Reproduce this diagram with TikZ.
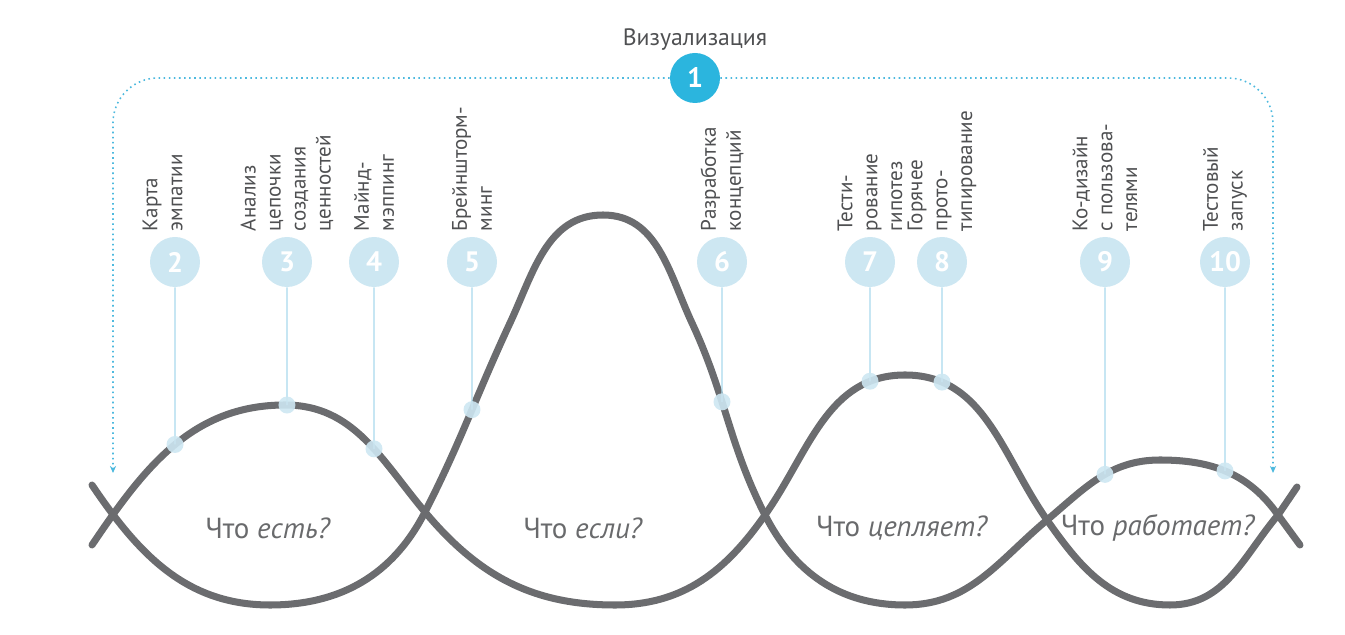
\documentclass[tikz,border=0pt]{standalone}
\usepackage{fontspec}
\setmainfont{PT Sans}
\usepackage{xcolor}
\usepackage{tikz}
\usetikzlibrary{positioning,arrows.meta,intersections}
\definecolor{waveGray}{HTML}{6B6C6F}
\definecolor{textGray}{HTML}{4F5052}
\definecolor{pinBlue}{HTML}{CDE7F2}
\definecolor{stemBlue}{HTML}{A9D9EC}
\definecolor{mainBlue}{HTML}{2BB5DE}
\definecolor{frameBlue}{HTML}{4DB9DE}

\begin{document}
\begin{tikzpicture}[
    x=0.02cm, y=0.02cm,
    wave/.style={draw=waveGray,line width=4pt,line cap=round},
    pin/.style={circle,fill=pinBlue,minimum size=1cm,inner sep=0pt,
                text=white,font=\fontsize{16}{16}\selectfont\bfseries},
    mainpin/.style={pin,fill=mainBlue},
    lbl/.style={rotate=90,anchor=west,align=left,inner sep=0pt,text=textGray,
                font=\fontsize{12}{14.2}\selectfont},
    phrase/.style={text=textGray!85,font=\fontsize{16.5}{18}\selectfont},
    stem/.style={draw=stemBlue,line width=0.7pt},
    spot/.style={circle,fill=pinBlue,opacity=0.9,minimum size=0.34cm,inner sep=0pt},
    frame/.style={draw=frameBlue,line width=0.9pt,dotted,rounded corners=0.9cm,
                  -{Stealth[length=4pt,width=3.5pt]}}
]
\useasboundingbox (0,0) rectangle (1345,635);

% the two crossing waves
\draw[wave, name path=wa] (92,90) to[out=56,in=180] (285,230)
    to[out=0,in=130] (425,123) to[out=-50,in=180] (615,30)
    to[out=0,in=235] (765,120) to[out=55,in=180] (905,260)
    to[out=0,in=125] (1047,115) to[out=-55,in=180] (1170,30)
    to[out=0,in=230] (1278,120) -- (1297,148);
\draw[wave, name path=wb] (92,150) to[out=-56,in=180] (270,30)
    to[out=0,in=243] (425,123) to[out=63,in=245] (510,312)
    to[out=65,in=180] (603,420) to[out=0,in=115] (692,312)
    to[out=-65,in=117] (765,120) to[out=-63,in=180] (905,30)
    to[out=0,in=220] (1047,115) to[out=40,in=180] (1160,175)
    to[out=0,in=125] (1278,120) -- (1300,90);

\node[phrase] (q1) at (268,107) {Что \textit{есть?}};
\node[phrase] (q2) at (583,107) {Что \textit{если?}};
\node[phrase] (q3) at (902,107) {Что \textit{цепляет?}};
\node[phrase] (q4) at (1158,107) {Что \textit{работает?}};

% visualisation frame
\node[mainpin] (c1) at (695,557) {1};
\node[text=textGray,font=\fontsize{13.5}{15}\selectfont,above=-2pt of c1] (t1) {Визуализация};
\coordinate (fl) at (113,162);
\coordinate (fr) at (1273,162);
\draw[frame] (c1) -| (fl);
\draw[frame] (c1) -| (fr);

% numbered steps
\node[pin] (c2)  at (175,373)  {2};
\node[pin] (c3)  at (287,373)  {3};
\node[pin] (c4)  at (374,373)  {4};
\node[pin] (c5)  at (472,373)  {5};
\node[pin] (c6)  at (722,373)  {6};
\node[pin] (c7)  at (870,373)  {7};
\node[pin] (c8)  at (942,373)  {8};
\node[pin] (c9)  at (1105,373) {9};
\node[pin] (c10) at (1225,373) {10};

\node[lbl] (l2)  at ([xshift=-7pt,yshift=3pt]c2.north) {Карта\\эмпатии};
\node[lbl] (l3)  at ([yshift=3pt]c3.north)  {Анализ\\цепочки\\создания\\ценностей};
\node[lbl] (l4)  at ([yshift=3pt]c4.north)  {Майнд-\\мэппинг};
\node[lbl] (l5)  at ([yshift=3pt]c5.north)  {Брейншторм-\\минг};
\node[lbl] (l6)  at ([yshift=3pt]c6.north)  {Разработка\\концепций};
\node[lbl] (l7)  at ([yshift=3pt]c7.north)  {Тести-\\рование\\гипотез};
\node[lbl] (l8)  at ([yshift=3pt]c8.north)  {Горячее\\прото-\\типирование};
\node[lbl] (l9)  at ([yshift=3pt]c9.north)  {Ко-дизайн\\с пользова-\\телями};
\node[lbl] (l10) at ([yshift=3pt]c10.north) {Тестовый\\запуск};

% stems down to the waves
\foreach \n in {2,...,10}
    \path[name path global=v\n] (c\n) -- ++(0,-400);
\path[name intersections={of=wa and v2, by=d2}];
\path[name intersections={of=wa and v3, by=d3}];
\path[name intersections={of=wa and v4, by=d4}];
\path[name intersections={of=wb and v5, by=d5}];
\path[name intersections={of=wb and v6, by=d6}];
\path[name intersections={of=wa and v7, by=d7}];
\path[name intersections={of=wa and v8, by=d8}];
\path[name intersections={of=wb and v9, by=d9}];
\path[name intersections={of=wb and v10, by=d10}];
\foreach \n in {2,...,10}{
    \draw[stem] (c\n) -- (d\n);
    \node[spot] (s\n) at (d\n) {};
}
\end{tikzpicture}
\end{document}
